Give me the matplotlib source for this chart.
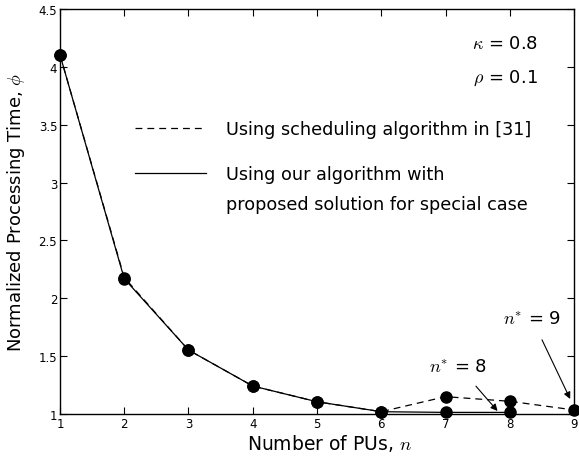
import matplotlib
matplotlib.use('Agg')
import matplotlib.pyplot as plt
from matplotlib.lines import Line2D

plt.rcParams['font.family'] = 'DejaVu Sans'
plt.rcParams['mathtext.fontset'] = 'cm'

n_vals = [1, 2, 3, 4, 5, 6, 7, 8, 9]
phi_sched = [4.105, 2.18, 1.553, 1.242, 1.106, 1.02, 1.15, 1.11, 1.035]

n_ours = [1, 2, 3, 4, 5, 6, 7, 8]
phi_ours = [4.105, 2.17, 1.553, 1.242, 1.106, 1.02, 1.014, 1.014]

x_ticks = [1, 2, 3, 4, 5, 6, 7, 8, 9]
y_ticks = [1, 1.5, 2, 2.5, 3, 3.5, 4, 4.5]
y_ticklabels = ['1', '1.5', '2', '2.5', '3', '3.5', '4', '4.5']

fig = plt.figure(figsize=(5.79, 4.6), dpi=100)
ax = fig.add_axes([0.1036, 0.0978, 0.8878, 0.8802])

sched_line, = ax.plot(n_vals, phi_sched, 'k--', lw=0.9, dashes=(5.5, 4))
ours_line, = ax.plot(n_ours, phi_ours, 'k-', lw=0.9)
ax.plot(n_vals, phi_sched, 'ko', ms=8, clip_on=False, zorder=5)
ax.plot(n_ours, phi_ours, 'ko', ms=8, clip_on=False, zorder=5)

ax.set_xlim(1, 9)
ax.set_ylim(1, 4.5)
ax.set_xticks(x_ticks)
ax.set_yticks(y_ticks)
ax.set_yticklabels(y_ticklabels)
ax.tick_params(direction='in', top=True, right=True, labelsize=8.5, length=5, pad=2)
for s in ax.spines.values():
    s.set_linewidth(1.0)

ax.set_xlabel(r'Number of PUs, $n$', fontsize=13.5, labelpad=1)
ax.xaxis.set_label_coords(0.525, -0.045)
ax.set_ylabel(r'Normalized Processing Time, $\phi$', fontsize=13, labelpad=8)

# legend, drawn as two blocks so the solid handle sits on the first text line
leg_kw = dict(frameon=False, fontsize=12.7, handlelength=4.0, handletextpad=1.15,
              borderpad=0, borderaxespad=0, loc='center left')
leg1 = ax.legend([sched_line], ['Using scheduling algorithm in [31]'],
                 bbox_to_anchor=(0.146, 0.704), **leg_kw)
ax.add_artist(leg1)
blank = Line2D([], [], linestyle='none')
ax.legend([ours_line, blank],
          ['Using our algorithm with', 'proposed solution for special case'],
          bbox_to_anchor=(0.146, 0.556), labelspacing=0.65, **leg_kw)

ax.text(8.43, 4.21, r'$\kappa$ = 0.8', fontsize=13, ha='right', va='center')
ax.text(8.43, 3.91, r'$\rho$ = 0.1', fontsize=13, ha='right', va='center')

ax.annotate(r'$n^{*}$ = 8', xy=(7.81, 1.026), xytext=(7.2, 1.415),
            fontsize=13, ha='center', va='center',
            arrowprops=dict(arrowstyle='-|>', color='k', lw=0.8, mutation_scale=10,
                            shrinkA=8, shrinkB=0))
ax.annotate(r'$n^{*}$ = 9', xy=(8.94, 1.13), xytext=(8.34, 1.83),
            fontsize=13, ha='center', va='center',
            arrowprops=dict(arrowstyle='-|>', color='k', lw=0.8, mutation_scale=10,
                            shrinkA=8, shrinkB=0))

fig.savefig('out.png', dpi=100)
